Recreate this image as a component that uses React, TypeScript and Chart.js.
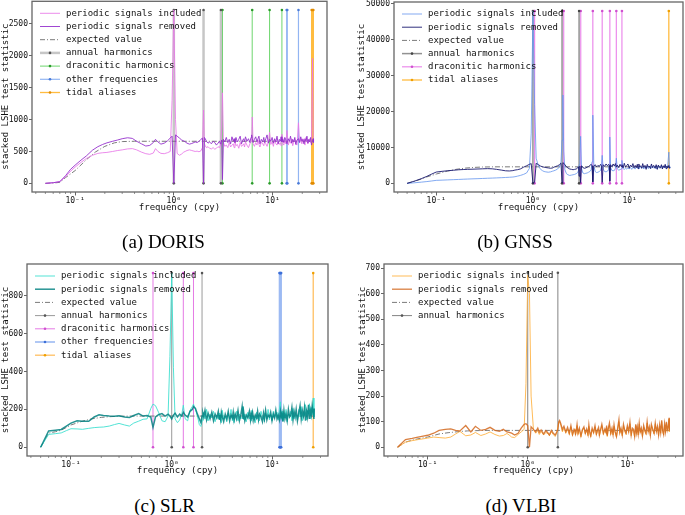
import React, { useEffect, useRef } from 'react';
import { Chart, registerables } from 'chart.js';

Chart.register(...registerables);

// ---------- shared frequency grid (cpy) ----------
const FREQ = [
  0.05, 0.06, 0.07, 0.08, 0.09, 0.1,
  0.115, 0.13, 0.15, 0.17, 0.19, 0.21,
  0.24, 0.27, 0.3, 0.34, 0.38, 0.42,
  0.47, 0.52, 0.57, 0.62, 0.652, 0.69,
  0.74, 0.8, 0.86, 0.92, 0.96,
  1.0, 1.04, 1.08, 1.14, 1.2, 1.26,
  1.304, 1.36, 1.44, 1.52, 1.6, 1.645,
  1.72, 1.8, 1.88, 1.95, 2.0, 2.04,
  2.08, 2.14, 2.22, 2.3, 2.4, 2.5,
  2.6, 2.7, 2.8, 2.9, 2.96, 3.0,
  3.06, 3.11, 3.18, 3.28, 3.4, 3.52,
  3.64, 3.76, 3.88, 4.0, 4.08, 4.16,
  4.26, 4.4, 4.55, 4.7, 4.85, 5.0,
  5.1, 5.2, 5.32, 5.5, 5.7, 5.9,
  6.05, 6.14, 6.23, 6.35, 6.55, 6.75,
  6.95, 7.12, 7.28, 7.45, 7.7, 7.95,
  8.15, 8.32, 8.55, 8.8, 9.05, 9.33,
  9.6, 9.9, 10.2, 10.5, 10.8, 11.1,
  11.4, 11.7, 12.0, 12.2, 12.44, 12.7,
  13.0, 13.3, 13.65, 14.0, 14.4, 14.8,
  15.2, 15.6, 16.0, 16.4, 16.8, 17.2,
  17.7, 18.3, 18.8, 19.3, 19.8, 20.3,
  20.8, 21.3, 21.8, 22.3, 22.8, 23.3,
  23.8, 24.3, 24.8, 25.4, 25.8, 26.0,
];
const EXP_FREQ = [0.05, 0.06, 0.07, 0.08, 0.1, 0.13, 0.16, 0.2, 0.25, 0.3, 0.4, 26];

const X_TICKS = [0.1, 1, 10];
const X_TICK_LABELS = ['10\u207B\u00B9', '10\u2070', '10\u00B9'];
const X_MINOR = [0.04, 0.05, 0.06, 0.07, 0.08, 0.09, 0.2, 0.3, 0.4, 0.5, 0.6, 0.7, 0.8, 0.9, 2, 3, 4, 5, 6, 7, 8, 9, 20, 30];

// ---------- DORIS ----------
const DORIS_INC = [
  0, 8, 30, 100, 190, 255,
  330, 390, 440, 470, 480, 485,
  500, 515, 525, 540, 545, 525,
  490, 465, 455, 475, 545, 500,
  470, 465, 480, 500, 1300,
  2720, 1000, 470, 440, 460, 490,
  500, 515, 525, 515, 505, 500,
  505, 495, 510, 560, 1150, 620,
  590, 560, 575, 550, 540, 560,
  535, 550, 575, 560, 600, 700,
  900, 1420, 640, 580, 600, 560,
  640, 570, 600, 620, 560, 660,
  590, 610, 550, 640, 580, 600,
  620, 570, 650, 600, 560, 620,
  660, 700, 1040, 620, 580, 640,
  600, 680, 610, 570, 650, 620,
  590, 660, 620, 580, 640, 800,
  610, 650, 580, 690, 620, 600,
  660, 610, 640, 590, 770, 630,
  600, 680, 620, 830, 600, 660,
  630, 700, 590, 650, 690, 620,
  600, 950, 640, 690, 620, 700,
  650, 600, 720, 660, 620, 680,
  700, 640, 720, 1960, 690, 650,
];
const DORIS_REM = [
  0, 10, 25, 120, 220, 285,
  365, 430, 520, 575, 610, 635,
  660, 680, 700, 715, 705, 660,
  620, 585, 595, 640, 690, 650,
  615, 630, 665, 710, 740,
  0, 760, 740, 710, 680, 665,
  650, 630, 615, 625, 640, 650,
  640, 660, 690, 710, 0, 720,
  700, 660, 630, 650, 620, 660,
  640, 600, 630, 660, 620, 640,
  680, 60, 690, 650, 720, 640,
  690, 620, 730, 660, 700, 640,
  720, 650, 690, 740, 620, 680,
  700, 650, 730, 660, 700, 640,
  720, 760, 700, 640, 690, 730,
  650, 700, 740, 620, 690, 650,
  720, 640, 700, 760, 630, 690,
  660, 720, 630, 700, 650, 740,
  620, 690, 660, 730, 650, 700,
  640, 720, 680, 620, 700, 660,
  740, 630, 690, 650, 720, 610,
  680, 700, 640, 730, 660, 690,
  620, 700, 660, 740, 630, 690,
  650, 720, 600, 680, 700, 640,
];
const DORIS_EXP = [0, 5, 15, 90, 200, 370, 490, 580, 635, 655, 660, 660];
const DORIS_ANNUAL = [1, 2, 3];
const DORIS_DRACONITIC = [3.11, 6.22, 9.33, 12.44];
const DORIS_OTHER = [13.9, 14.1, 18.3];
const DORIS_TIDAL = [24.9, 25.4, 25.9];
const DORIS_LINE_TOP = 2720;
const DORIS_Y_TICKS = [0, 500, 1000, 1500, 2000, 2500];

// ---------- GNSS ----------
const GNSS_INC = [
  0, 170, 340, 500, 670, 840,
  900, 960, 1030, 1090, 1150, 1200,
  1260, 1310, 1360, 1420, 1470, 1520,
  1580, 1640, 1700, 1760, 1850, 2000,
  2200, 2500, 2900, 4200, 14000,
  48000, 22000, 7000, 4800, 3900, 3500,
  3300, 3200, 3100, 3200, 3400, 3500,
  3700, 4000, 4600, 6000, 12000, 24600,
  9000, 3800, 2700, 2400, 2200, 2300,
  2400, 2500, 2700, 3000, 3600, 5200,
  8000, 13100, 4200, 2900, 2700, 2800,
  2900, 3100, 3300, 3800, 6000, 19000,
  5000, 3300, 3000, 3100, 3300, 3600,
  4500, 7800, 4000, 3300, 3200, 3400,
  3800, 5000, 12900, 4500, 3600, 3500,
  3600, 4200, 7000, 4000, 3700, 3800,
  4000, 6400, 4100, 3900, 4200, 4000,
  4300, 4100, 4400, 3900, 4500, 4200,
  4000, 4500, 4300, 4600, 4100, 4400,
  4700, 4200, 4500, 4000, 4600, 4300,
  4800, 4100, 4500, 4900, 4200, 4600,
  4300, 4800, 4000, 4600, 4900, 4200,
  4500, 5000, 4100, 4700, 4300, 4900,
  4200, 4700, 5200, 8700, 4600, 4300,
];
const GNSS_REM = [
  0, 650, 1300, 1950, 2600, 3150,
  3350, 3500, 3650, 3780, 3850, 3900,
  3950, 4000, 4050, 4100, 4050, 3900,
  3700, 3500, 3450, 3550, 3700, 3800,
  4000, 4500, 4900, 5300, 5500,
  0, 300, 5600, 5200, 4800, 4600,
  4500, 4400, 4300, 4200, 4300, 4500,
  4700, 4900, 5200, 5600, 200, 5800,
  5600, 5200, 4600, 4300, 4000, 3900,
  3800, 3900, 4000, 4300, 4600, 2000,
  4800, 200, 4900, 4400, 4200, 4300,
  4500, 4700, 5000, 5300, 4900, 400,
  4800, 5200, 4600, 5000, 4700, 5300,
  4900, 300, 5200, 4700, 5400, 4900,
  5300, 5000, 600, 5200, 4600, 5400,
  4800, 5500, 4600, 5100, 4400, 5300,
  4700, 5200, 4300, 5600, 4500, 5000,
  5400, 4200, 5100, 4600, 5500, 4300,
  5000, 4400, 5300, 4100, 5400, 4600,
  4900, 4200, 5500, 4400, 5000, 3900,
  5300, 4500, 4800, 4100, 5400, 4400,
  5000, 4200, 5200, 3900, 5100, 4500,
  4300, 5200, 4000, 4900, 4400, 5300,
  4100, 4800, 4300, 5000, 4200, 4600,
];
const GNSS_EXP = [0, 600, 1200, 1800, 2600, 3400, 3900, 4250, 4450, 4550, 4600, 4600];
const GNSS_ANNUAL = [1, 2, 3];
const GNSS_DRACONITIC = [1.04, 2.08, 3.12, 4.16, 5.2, 6.24, 7.28, 8.32];
const GNSS_TIDAL = [25.4];
const GNSS_LINE_TOP = 48000;
const GNSS_Y_TICKS = [0, 10000, 20000, 30000, 40000, 50000];

// ---------- SLR ----------
const SLR_INC = [
  0, 68, 72, 76, 88, 98,
  97, 95, 100, 104, 106, 107,
  112, 120, 126, 118, 112, 128,
  138, 148, 150, 205, 228, 220,
  185, 140, 135, 165, 480,
  920, 420, 150, 130, 145, 175,
  222, 150, 140, 195, 215, 228,
  200, 165, 120, 110, 140, 160,
  185, 150, 200, 140, 175, 155,
  190, 135, 170, 150, 180, 145,
  175, 130, 195, 150, 165, 135,
  180, 150, 200, 140, 170, 130,
  165, 190, 140, 175, 150, 160,
  215, 145, 175, 135, 185, 150,
  170, 140, 195, 150, 165, 130,
  185, 150, 170, 140, 190, 155,
  165, 135, 180, 150, 200, 145,
  175, 140, 190, 155, 170, 185,
  145, 200, 240, 150, 190, 140,
  180, 155, 200, 135, 175, 165,
  190, 140, 205, 150, 180, 170,
  145, 200, 160, 215, 140, 185,
  165, 225, 145, 195, 175, 230,
  150, 210, 170, 260, 160, 195,
];
const SLR_REM = [
  0, 86, 90, 94, 112, 128,
  140, 138, 137, 160, 172, 168,
  165, 164, 167, 160, 157, 168,
  178, 165, 168, 160, 105, 160,
  172, 178, 165, 175, 165,
  150, 170, 180, 160, 175, 165,
  185, 170, 160, 190, 200, 215,
  205, 175, 150, 130, 165, 180,
  160, 195, 145, 180, 150, 185,
  140, 175, 155, 190, 150, 170,
  145, 185, 160, 135, 175, 150,
  190, 140, 170, 155, 185, 145,
  175, 150, 195, 140, 170, 215,
  150, 180, 140, 170, 155, 190,
  145, 175, 160, 185, 140, 170,
  155, 190, 145, 175, 160, 135,
  180, 150, 195, 145, 170, 160,
  185, 140, 175, 155, 195, 150,
  170, 145, 190, 160, 180, 135,
  195, 150, 175, 140, 200, 160,
  170, 210, 145, 190, 160, 200,
  140, 185, 220, 150, 195, 165,
  210, 140, 190, 160, 225, 150,
  195, 170, 220, 180, 150, 205,
];
const SLR_EXP = [0, 75, 82, 90, 118, 138, 150, 158, 162, 164, 165, 165];
const SLR_ANNUAL = [1, 2];
const SLR_DRACONITIC = [0.652, 1.304, 1.645];
const SLR_OTHER = [11.75, 11.9, 12.05, 12.2];
const SLR_TIDAL = [25.4];
const SLR_LINE_TOP = 920;
const SLR_Y_TICKS = [0, 200, 400, 600, 800];

// ---------- VLBI ----------
const VLBI_INC = [
  0, 20, 26, 30, 33, 36,
  40, 38, 36, 40, 52, 62,
  45, 48, 58, 46, 52, 60,
  50, 44, 46, 54, 48, 40,
  38, 50, 60, 70, 250,
  672, 600, 200, 70, 55, 65,
  50, 62, 48, 58, 52, 45,
  60, 50, 42, 55, 80, 95,
  100, 85, 60, 75, 55, 70,
  50, 80, 45, 65, 72, 48,
  60, 85, 50, 70, 40, 66,
  75, 52, 68, 45, 82, 58,
  40, 70, 55, 80, 48, 65,
  72, 45, 62, 85, 50, 68,
  55, 78, 42, 66, 88, 50,
  70, 48, 82, 60, 40, 75,
  100, 55, 70, 45, 85, 62,
  50, 80, 58, 92, 45, 70,
  65, 40, 85, 55, 75, 48,
  90, 58, 70, 42, 80, 62,
  50, 95, 60, 75, 45, 85,
  68, 52, 90, 60, 78, 45,
  82, 55, 100, 62, 48, 88,
  58, 95, 65, 80, 110, 60,
];
const VLBI_REM = [
  0, 30, 35, 40, 44, 47,
  55, 66, 70, 72, 66, 64,
  85, 60, 82, 66, 70, 78,
  66, 62, 70, 60, 58, 55,
  48, 55, 75, 90, 92,
  85, 0, 80, 70, 60, 75,
  58, 68, 52, 65, 55, 48,
  66, 55, 48, 60, 70, 100,
  105, 92, 70, 82, 60, 78,
  55, 85, 50, 70, 62, 52,
  68, 90, 55, 75, 45, 70,
  80, 55, 72, 50, 88, 60,
  45, 75, 58, 85, 52, 70,
  78, 48, 66, 90, 55, 72,
  60, 85, 45, 70, 95, 55,
  75, 50, 88, 62, 42, 80,
  108, 58, 75, 48, 90, 65,
  55, 85, 62, 98, 48, 75,
  70, 42, 90, 58, 80, 52,
  95, 60, 75, 45, 85, 65,
  55, 100, 62, 80, 48, 90,
  72, 55, 95, 62, 82, 48,
  88, 58, 105, 65, 50, 92,
  62, 100, 68, 85, 115, 65,
];
const VLBI_EXP = [0, 20, 28, 33, 40, 52, 57, 61, 64, 65, 66, 66];
const VLBI_ANNUAL = [1, 2];
const VLBI_LINE_TOP = 682;
const VLBI_Y_TICKS = [0, 100, 200, 300, 400, 500, 600, 700];

// ---------- styling / builders ----------
const MONO = '"DejaVu Sans Mono", monospace';
const FRAME = '#666666';
const TEXT = '#111111';
const DASHDOT = [5, 2, 1, 2];
const X_MIN = 0.0366;
const X_MAX = 35.6;

const series = (vals: number[]) => FREQ.map((f, i) => ({ x: f, y: vals[i] }));
const expected = (vals: number[]) => EXP_FREQ.map((f, i) => ({ x: f, y: vals[i] }));
const vlines = (freqs: number[], top: number) => {
  const out: any[] = [];
  freqs.forEach((f) => {
    out.push({ x: f, y: 0 }, { x: f, y: top }, { x: f, y: null });
  });
  return out;
};

function lineDs(label: string, data: any[], color: string, width: number, order: number, extra: any = {}) {
  return { label, data, borderColor: color, backgroundColor: color, borderWidth: width, pointRadius: 0, order, ...extra };
}
function vDs(label: string, freqs: number[], top: number, color: string, width: number, markerColor: string) {
  return {
    label, data: vlines(freqs, top), borderColor: color, backgroundColor: markerColor,
    borderWidth: width, pointRadius: 1.3, pointBorderWidth: 0, pointHoverRadius: 0,
    order: 5, marker: true, markerColor,
  };
}
const expDs = (vals: number[]) => lineDs('expected value', expected(vals), '#7a7a7a', 1, 3, { borderDash: DASHDOT });

const PANELS = [
  {
    key: 'a', left: 0, top: 0, w: 340, h: 225, padTop: 0, padRight: 13, yWidth: 32, xHeight: 33,
    xTitleBottom: 11.6, yTitleTop: 0, yMin: -136, yMax: 2856, yTicks: DORIS_Y_TICKS,
    caption: '(a) DORIS', capX: 163.5, capY: 242,
    datasets: [
      lineDs('periodic signals included', series(DORIS_INC), 'rgba(232,120,232,0.85)', 1, 2),
      lineDs('periodic signals removed', series(DORIS_REM), 'rgba(150,50,205,0.9)', 1, 1),
      expDs(DORIS_EXP),
      vDs('annual harmonics', DORIS_ANNUAL, DORIS_LINE_TOP, 'rgba(160,160,160,0.6)', 2.5, '#555'),
      vDs('draconitic harmonics', DORIS_DRACONITIC, DORIS_LINE_TOP, 'rgba(60,200,60,0.75)', 1, '#2a9a2a'),
      vDs('other frequencies', DORIS_OTHER, DORIS_LINE_TOP, 'rgba(100,150,237,0.7)', 1.2, '#4a7bd8'),
      vDs('tidal aliases', DORIS_TIDAL, DORIS_LINE_TOP, 'rgba(255,165,0,0.75)', 1.3, '#e08a00'),
    ],
  },
  {
    key: 'b', left: 340, top: 0, w: 345, h: 225, padTop: 2, padRight: 2, yWidth: 54, xHeight: 33,
    xTitleBottom: 11.6, yTitleTop: 16.6, yMin: -2405, yMax: 50500, yTicks: GNSS_Y_TICKS,
    caption: '(b) GNSS', capX: 515, capY: 242,
    datasets: [
      lineDs('periodic signals included', series(GNSS_INC), 'rgba(100,149,237,0.8)', 1, 2),
      lineDs('periodic signals removed', series(GNSS_REM), 'rgba(25,25,112,0.9)', 1, 1),
      expDs(GNSS_EXP),
      vDs('annual harmonics', GNSS_ANNUAL, GNSS_LINE_TOP, 'rgba(110,110,110,0.75)', 1.5, '#444'),
      vDs('draconitic harmonics', GNSS_DRACONITIC, GNSS_LINE_TOP, 'rgba(230,110,230,0.8)', 1.2, '#d050d0'),
      vDs('tidal aliases', GNSS_TIDAL, GNSS_LINE_TOP, 'rgba(255,175,30,0.85)', 1.3, '#f0a000'),
    ],
  },
  {
    key: 'c', left: 0, top: 250, w: 340, h: 240, padTop: 14, padRight: 12, yWidth: 27, xHeight: 34,
    xTitleBottom: 13.6, yTitleTop: 0, yMin: -46, yMax: 968, yTicks: SLR_Y_TICKS,
    caption: '(c) SLR', capX: 164.5, capY: 506,
    datasets: [
      lineDs('periodic signals included', series(SLR_INC), 'rgba(64,224,208,0.9)', 1, 2),
      lineDs('periodic signals removed', series(SLR_REM), 'rgba(0,128,128,0.85)', 1.5, 1),
      expDs(SLR_EXP),
      vDs('annual harmonics', SLR_ANNUAL, SLR_LINE_TOP, 'rgba(120,120,120,0.75)', 1, '#555'),
      vDs('draconitic harmonics', SLR_DRACONITIC, SLR_LINE_TOP, 'rgba(225,100,225,0.85)', 1, '#d050d0'),
      vDs('other frequencies', SLR_OTHER, SLR_LINE_TOP, 'rgba(90,140,235,0.6)', 1.6, '#3d6fd8'),
      vDs('tidal aliases', SLR_TIDAL, SLR_LINE_TOP, 'rgba(255,180,70,0.85)', 1.3, '#f0a000'),
    ],
  },
  {
    key: 'd', left: 340, top: 250, w: 345, h: 240, padTop: 14, padRight: 2, yWidth: 44, xHeight: 34,
    xTitleBottom: 13.6, yTitleTop: 17, yMin: -34, yMax: 716, yTicks: VLBI_Y_TICKS,
    caption: '(d) VLBI', capX: 521, capY: 506,
    datasets: [
      lineDs('periodic signals included', series(VLBI_INC), 'rgba(255,180,70,0.9)', 1, 2),
      lineDs('periodic signals removed', series(VLBI_REM), 'rgba(210,105,30,0.85)', 1.3, 1),
      expDs(VLBI_EXP),
      vDs('annual harmonics', VLBI_ANNUAL, VLBI_LINE_TOP, 'rgba(100,100,100,0.8)', 1, '#555'),
    ],
  },
];

const mplPlugin = {
  id: 'mplDecor',
  afterDatasetsDraw(chart: any) {
    const { ctx, chartArea: a } = chart;
    const xs = chart.scales.x;
    ctx.save();
    // minor ticks on the log axis
    ctx.strokeStyle = FRAME;
    ctx.lineWidth = 0.7;
    X_MINOR.forEach((v) => {
      const px = xs.getPixelForValue(v);
      if (px > a.left + 0.5 && px < a.right - 0.5) {
        ctx.beginPath();
        ctx.moveTo(px, a.bottom);
        ctx.lineTo(px, a.bottom + 2);
        ctx.stroke();
      }
    });
    // frame
    ctx.lineWidth = 1.3;
    ctx.strokeRect(a.left, a.top, a.right - a.left, a.bottom - a.top);
    // legend
    const x0 = a.left + 8;
    let y = a.top + 12;
    ctx.font = '9px ' + MONO;
    ctx.textBaseline = 'middle';
    ctx.textAlign = 'left';
    chart.data.datasets.forEach((ds: any) => {
      ctx.strokeStyle = ds.borderColor;
      ctx.lineWidth = ds.borderWidth;
      ctx.setLineDash(ds.borderDash || []);
      ctx.beginPath();
      ctx.moveTo(x0, y);
      ctx.lineTo(x0 + 20, y);
      ctx.stroke();
      ctx.setLineDash([]);
      if (ds.marker) {
        ctx.fillStyle = ds.markerColor;
        ctx.beginPath();
        ctx.arc(x0 + 10, y, 1.3, 0, Math.PI * 2);
        ctx.fill();
      }
      ctx.fillStyle = TEXT;
      ctx.fillText(ds.label, x0 + 26, y);
      y += 13.2;
    });
    ctx.restore();
  },
};

function Panel({ p }: { p: any }) {
  const ref = useRef<HTMLCanvasElement | null>(null);
  useEffect(() => {
    if (!ref.current) return;
    const tickGrid = (len: number) => ({
      display: true, drawOnChartArea: false, drawTicks: true, tickLength: len,
      tickColor: FRAME, tickWidth: 1, color: FRAME,
    });
    const chart = new Chart(ref.current, {
      type: 'line',
      data: { datasets: p.datasets },
      options: {
        responsive: false,
        animation: false,
        events: [],
        layout: { padding: { top: p.padTop, right: p.padRight, left: 0, bottom: 0 } },
        plugins: { legend: { display: false }, tooltip: { enabled: false } },
        elements: { line: { tension: 0 }, point: { radius: 0 } },
        scales: {
          x: {
            type: 'logarithmic', position: 'bottom', min: X_MIN, max: X_MAX,
            afterBuildTicks: (s: any) => { s.ticks = X_TICKS.map((v) => ({ value: v })); },
            afterFit: (s: any) => { s.height = p.xHeight; s.paddingLeft = 0; s.paddingRight = 0; },
            ticks: {
              autoSkip: false, maxRotation: 0, minRotation: 0, padding: 1, color: TEXT,
              font: { family: MONO, size: 8 },
              callback: (_v: any, i: number) => X_TICK_LABELS[i],
            },
            grid: tickGrid(3.5),
            border: { display: false },
            title: {
              display: true, text: 'frequency (cpy)', color: TEXT,
              font: { family: MONO, size: 9 }, padding: { top: 0, bottom: p.xTitleBottom },
            },
          },
          y: {
            type: 'linear', position: 'left', min: p.yMin, max: p.yMax,
            afterBuildTicks: (s: any) => { s.ticks = p.yTicks.map((v: number) => ({ value: v })); },
            afterFit: (s: any) => { s.width = p.yWidth; s.paddingTop = 0; s.paddingBottom = 0; },
            ticks: {
              padding: 1, color: TEXT, font: { family: MONO, size: 8 },
              callback: (v: any) => String(v),
            },
            grid: tickGrid(3),
            border: { display: false },
            title: {
              display: true, text: 'stacked LSHE test statistic', color: TEXT,
              font: { family: MONO, size: 9 }, padding: { top: p.yTitleTop, bottom: 0 },
            },
          },
        },
      } as any,
      plugins: [mplPlugin],
    });
    return () => chart.destroy();
  }, [p]);
  return (
    <canvas
      ref={ref}
      width={p.w}
      height={p.h}
      style={{ position: 'absolute', left: p.left, top: p.top, width: p.w, height: p.h, display: 'block' }}
    />
  );
}

export default function App() {
  return (
    <div style={{ position: 'absolute', left: 0, top: 0, width: 685, height: 515, background: '#fff', overflow: 'hidden' }}>
      {PANELS.map((p) => (
        <Panel key={p.key} p={p} />
      ))}
      {PANELS.map((p) => (
        <div
          key={'cap' + p.key}
          style={{
            position: 'absolute', left: p.capX - 100, top: p.capY - 11, width: 200, height: 22,
            textAlign: 'center', fontFamily: '"Liberation Serif", "DejaVu Serif", serif',
            fontSize: 19, lineHeight: '22px', color: '#000',
          }}
        >
          {p.caption}
        </div>
      ))}
    </div>
  );
}
